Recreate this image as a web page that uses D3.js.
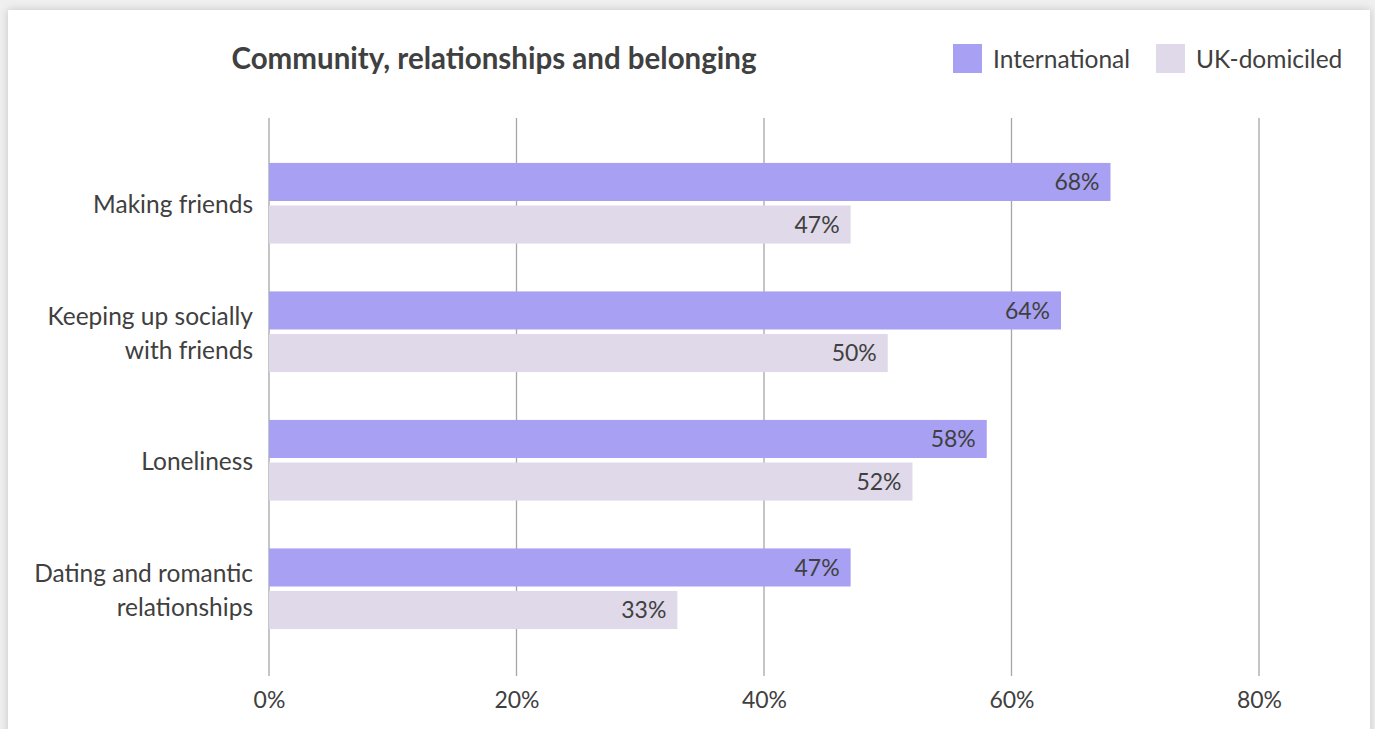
<!DOCTYPE html>
<html>
<head>
<meta charset="utf-8">
<script src="https://cdn.jsdelivr.net/npm/d3@7"></script>
<style>
  html, body { margin: 0; padding: 0; background: #efefef; }
  body { width: 1375px; height: 729px; overflow: hidden; position: relative; }
  #card {
    position: absolute; left: 8px; top: 10px; width: 1362px; height: 740px;
    background: #ffffff; box-shadow: 0 0 8px rgba(0,0,0,0.18);
  }
  svg { position: absolute; left: 0; top: 0; }
  text { font-family: Lato, "Open Sans", sans-serif; fill: #404040; }
</style>
</head>
<body>
<div id="card"></div>
<svg id="chart" width="1375" height="729"></svg>
<script>
// Survey results: share of students reporting each concern
const categories = ["Making friends", "Keeping up socially with friends", "Loneliness", "Dating and romantic relationships"];
const categoryLines = [["Making friends"], ["Keeping up socially", "with friends"], ["Loneliness"], ["Dating and romantic", "relationships"]];
const seriesNames = ["International", "UK-domiciled"];
const international = [68, 64, 58, 47];
const ukDomiciled = [47, 50, 52, 33];
const tickValues = [0, 20, 40, 60, 80];
const title = "Community, relationships and belonging";

const colors = { "International": "#a8a0f2", "UK-domiciled": "#dfd9e9" };

const svg = d3.select("#chart");

const x = d3.scaleLinear().domain([0, 80]).range([269, 1259]);
const y0 = d3.scaleBand().domain(categories).range([139, 653]);
const y1 = d3.scaleBand().domain(seriesNames).range([0, y0.bandwidth()])
  .paddingInner(0.106).paddingOuter(0.562);

const rows = categories.map((c, i) => ({
  category: c,
  lines: categoryLines[i],
  values: [
    { series: "International", value: international[i] },
    { series: "UK-domiciled", value: ukDomiciled[i] }
  ]
}));

// Vertical gridlines
svg.append("g")
  .selectAll("line")
  .data(tickValues)
  .join("line")
  .attr("x1", d => x(d)).attr("x2", d => x(d))
  .attr("y1", 118).attr("y2", 676)
  .attr("stroke", "#a6a6a6").attr("stroke-width", 1.3);

// Bottom axis labels
const xAxis = d3.axisBottom(x).tickValues(tickValues).tickFormat(d => d + "%").tickSize(0).tickPadding(0);
const gx = svg.append("g").attr("transform", "translate(0,708)").call(xAxis);
gx.select(".domain").remove();
gx.selectAll("text")
  .attr("dy", 0).attr("y", 0)
  .style("font-family", "Lato, 'Open Sans', sans-serif")
  .style("font-size", "23px").style("fill", "#404040");

// Bars
const groups = svg.append("g").selectAll("g")
  .data(rows)
  .join("g")
  .attr("transform", d => `translate(0,${y0(d.category)})`);

groups.selectAll("rect")
  .data(d => d.values)
  .join("rect")
  .attr("x", x(0))
  .attr("y", d => y1(d.series))
  .attr("width", d => x(d.value) - x(0))
  .attr("height", y1.bandwidth())
  .attr("fill", d => colors[d.series]);

groups.selectAll("text.value")
  .data(d => d.values)
  .join("text")
  .attr("class", "value")
  .attr("x", d => x(d.value) - 11)
  .attr("y", d => y1(d.series) + y1.bandwidth() / 2)
  .attr("dy", "0.36em")
  .attr("text-anchor", "end")
  .style("font-size", "23px")
  .text(d => d.value + "%");

// Category labels
groups.append("text")
  .attr("text-anchor", "end")
  .attr("x", 253)
  .style("font-size", "24.5px")
  .each(function(d) {
    const t = d3.select(this);
    const n = d.lines.length;
    const mid = y0.bandwidth() / 2 + 1;
    d.lines.forEach((ln, i) => {
      t.append("tspan")
        .attr("x", 253)
        .attr("y", mid + (i - (n - 1) / 2) * 34)
        .attr("dy", "0.36em")
        .text(ln);
    });
  });

// Title
svg.append("text")
  .attr("x", 494).attr("y", 58).attr("dy", "0.36em")
  .attr("text-anchor", "middle")
  .style("font-size", "29.5px").style("font-weight", "bold")
  .text(title);

// Legend
const legendPos = [953, 1156];
const legend = svg.append("g").selectAll("g")
  .data(seriesNames)
  .join("g")
  .attr("transform", (d, i) => `translate(${legendPos[i]},44)`);
legend.append("rect").attr("width", 29).attr("height", 29).attr("fill", d => colors[d]);
legend.append("text")
  .attr("x", 40).attr("y", 15).attr("dy", "0.36em")
  .style("font-size", "24.5px")
  .text(d => d);
</script>
</body>
</html>
